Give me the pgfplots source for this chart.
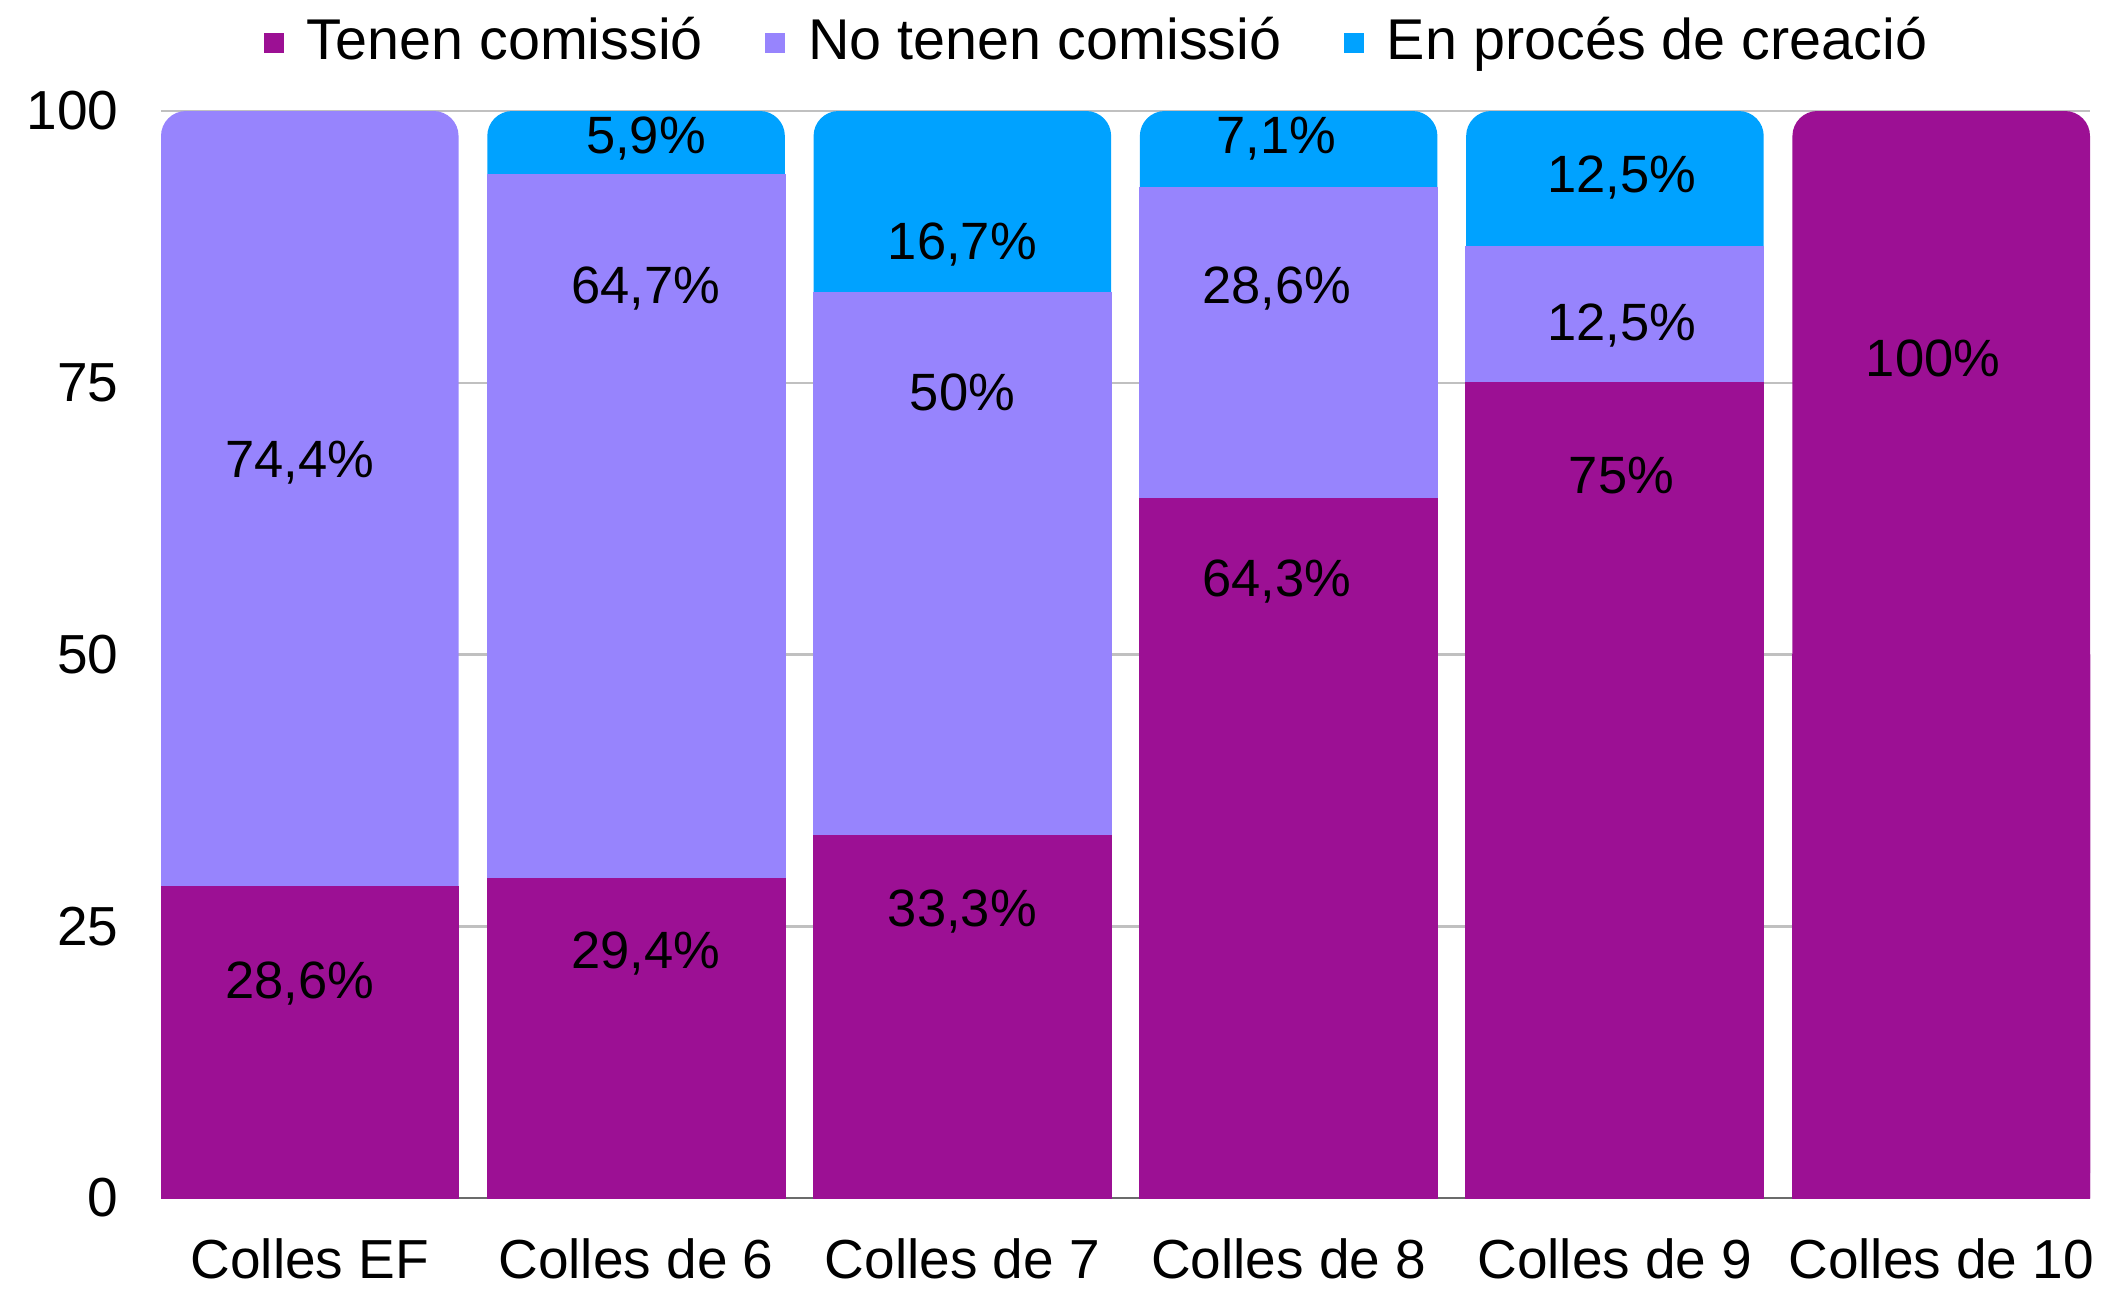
\documentclass[border=0pt]{standalone}
\usepackage{fontspec}
\setmainfont{Liberation Sans}
\usepackage{pgfplots}
\usepackage{pgfplotstable}
\pgfplotsset{compat=1.18}

\definecolor{tenen}{HTML}{9C1094}
\definecolor{notenen}{HTML}{9784FD}
\definecolor{proces}{HTML}{00A2FF}
\definecolor{gridgray}{HTML}{C0C0C0}
\definecolor{basegray}{HTML}{6B6B6B}

% label positions (x = category index, y = where the text sits)
\pgfplotstableread{
x y lab
-0.03 20.0 28,6\%
-0.03 67.9 74,4\%
1.03 22.7 29,4\%
1.03 83.9 64,7\%
1.03 97.7 5,9\%
2 26.6 33,3\%
2 74.3 50\%
2 87.9 16,7\%
2.963 56.9 64,3\%
2.963 83.9 28,6\%
2.963 97.7 7,1\%
4.02 66.7 75\%
4.02 80.5 12,5\%
4.02 94.1 12,5\%
4.975 77.5 100\%
}\labels

\pgfplotsset{
  bars/.style={ybar, bar width=0.912, bar shift=0pt, forget plot},
  topbar/.style={bars, draw=none, rounded corners=5pt, fill=#1},
  lowbar/.style={bars, draw=#1, line width=0.3pt, fill=#1},
}

\begin{document}
\begin{tikzpicture}
\begin{axis}[
  scale only axis,
  width=385.8pt, height=217.4pt,
  xmin=-0.456, xmax=5.456,
  ymin=0, ymax=100,
  xtick={0,1,2,3,4,5},
  xticklabels={Colles EF, Colles de 6, Colles de 7, Colles de 8, Colles de 9, Colles de 10},
  ytick={0,25,50,75,100},
  extra y ticks={0}, extra y tick labels={},
  extra y tick style={grid style={draw=basegray, line width=0.5pt}},
  ymajorgrids,
  grid style={draw=gridgray, line width=0.5pt},
  axis line style={draw=none},
  major tick length=0pt,
  tick label style={font=\fontsize{11}{13}\selectfont},
  /pgf/number format/assume math mode=true,
  yticklabel style={xshift=-5pt},
  xticklabel style={yshift=-4.5pt},
  legend style={at={(0.487,1.063)}, anchor=center, draw=none, fill=none,
    font=\fontsize{11.5}{13}\selectfont, legend columns=-1,
    /tikz/every odd column/.append style={column sep=2.6pt},
    /tikz/every even column/.append style={column sep=10.5pt}},
  legend image code/.code={\fill[#1] (0pt,-2pt) rectangle (4pt,2pt);},
]
\addlegendimage{fill=tenen, draw=none}
\addlegendentry{Tenen comissió}
\addlegendimage{fill=notenen, draw=none}
\addlegendentry{No tenen comissió}
\addlegendimage{fill=proces, draw=none}
\addlegendentry{En procés de creació}

% topmost segment of every bar, drawn full height with rounded corners
\addplot[topbar=notenen] coordinates {(0,100)};
\addplot[topbar=proces] coordinates {(1,100) (2,100) (3,100) (4,100)};
\addplot[topbar=tenen] coordinates {(5,100)};
% lower segments, cumulative heights (the last one only squares off the foot of the 100% bar)
\addplot[lowbar=notenen] coordinates {(1,94.1) (2,83.3) (3,92.9) (4,87.5)};
\addplot[lowbar=tenen] coordinates {(0,28.6) (1,29.4) (2,33.3) (3,64.3) (4,75) (5,50)};

\addplot[sharp plot, draw=none, mark=none, forget plot,
  nodes near coords, point meta=explicit symbolic,
  nodes near coords style={anchor=center, yshift=-0.5pt, font=\fontsize{10.5}{12}\selectfont}]
  table[x=x, y=y, meta=lab] {\labels};
\end{axis}
\pgfresetboundingbox
\path[use as bounding box] ([xshift=-32.2pt,yshift=-18pt]current axis.south west)
  rectangle ([xshift=3pt,yshift=22.2pt]current axis.north east);
\end{tikzpicture}
\end{document}
